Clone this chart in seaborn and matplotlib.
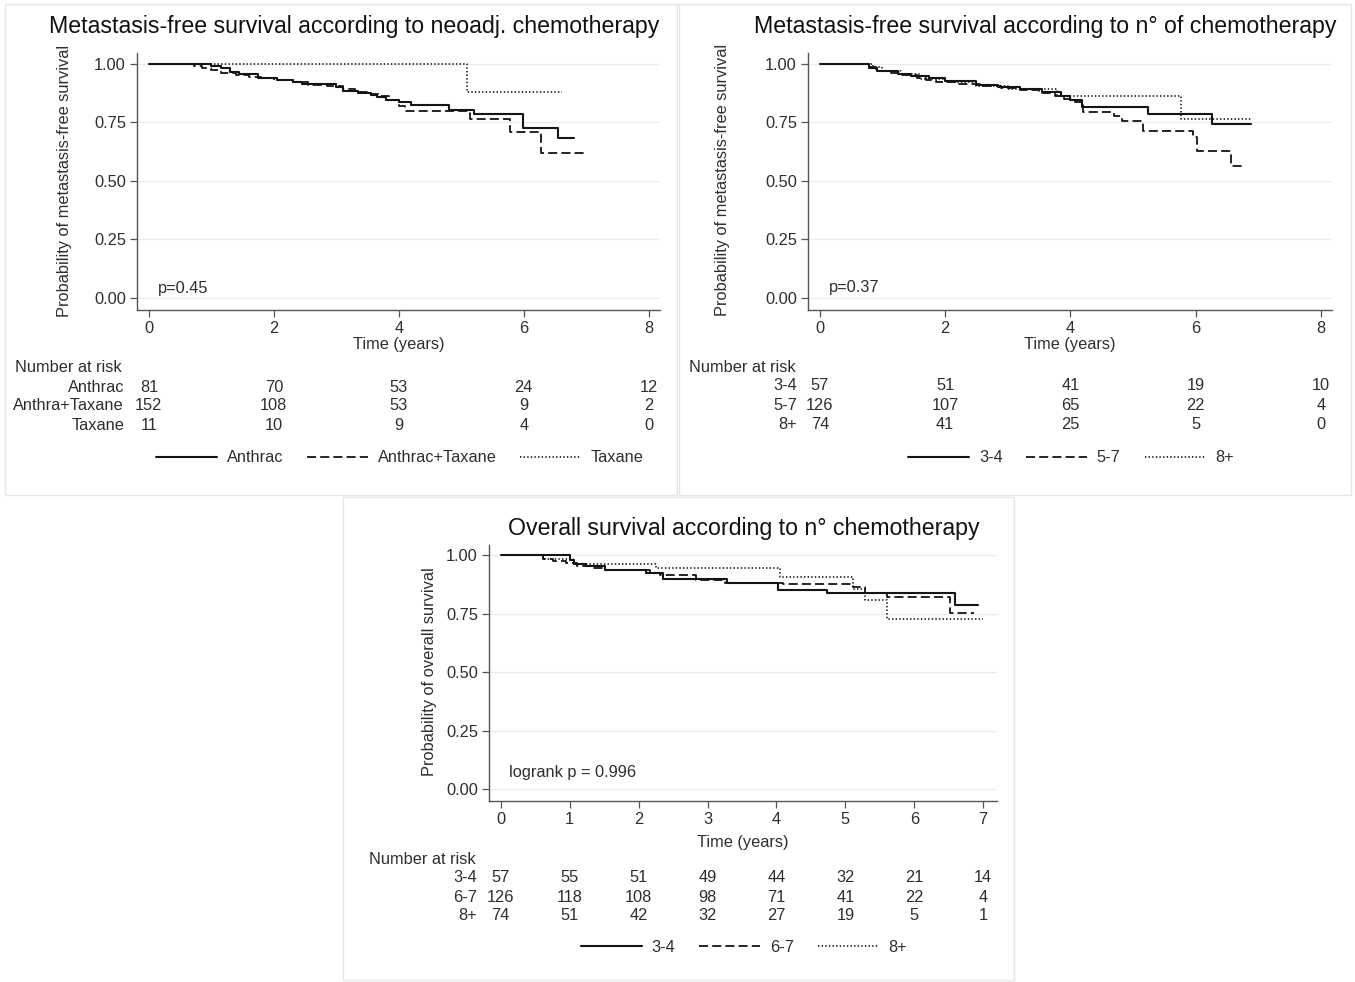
import numpy as np
import pandas as pd
import matplotlib
matplotlib.use("Agg")
import matplotlib.pyplot as plt
import seaborn as sns
import matplotlib.transforms as mtransforms
from matplotlib.lines import Line2D
from matplotlib.patches import Rectangle

# ---------------- data ----------------
# Panel 1: metastasis-free survival by neoadjuvant chemotherapy
p1_titles = "Metastasis-free survival according to neoadj. chemotherapy"
p1_groups = ["Anthrac", "Anthrac+Taxane", "Taxane"]
p1_risk_labels = ["Anthrac", "Anthra+Taxane", "Taxane"]
p1_anthrac_t = [0, 1.0, 1.15, 1.3, 1.45, 1.75, 2.05, 2.3, 2.45, 3.0, 3.1, 3.35, 3.55, 3.65, 3.8, 4.0, 4.2, 4.8, 5.2, 5.98, 6.54, 6.8]
p1_anthrac_s = [1.0, 0.99, 0.98, 0.965, 0.955, 0.94, 0.93, 0.922, 0.915, 0.9, 0.885, 0.875, 0.867, 0.857, 0.847, 0.838, 0.822, 0.802, 0.787, 0.727, 0.682, 0.682]
p1_antax_t = [0, 0.72, 0.85, 1.0, 1.15, 1.4, 1.6, 1.8, 2.0, 2.3, 2.55, 2.85, 3.1, 3.3, 3.5, 3.7, 3.85, 4.0, 4.1, 5.14, 5.78, 6.27, 6.97]
p1_antax_s = [1.0, 0.99, 0.98, 0.972, 0.962, 0.952, 0.945, 0.937, 0.93, 0.92, 0.91, 0.905, 0.89, 0.88, 0.87, 0.86, 0.845, 0.82, 0.8, 0.763, 0.71, 0.62, 0.62]
p1_taxane_t = [0, 5.09, 6.61]
p1_taxane_s = [1.0, 0.879, 0.879]
p1_risk_times = [0, 2, 4, 6, 8]
p1_risk = [[81, 70, 53, 24, 12],
           [152, 108, 53, 9, 2],
           [11, 10, 9, 4, 0]]
p1_pval = "p=0.45"

# Panel 2: metastasis-free survival by number of chemotherapy cycles
p2_title = "Metastasis-free survival according to n\u00b0 of chemotherapy"
p2_groups = ["3-4", "5-7", "8+"]
p2_a_t = [0, 0.78, 0.92, 1.25, 1.45, 1.75, 2.0, 2.5, 2.85, 3.2, 3.55, 3.85, 4.0, 4.19, 5.24, 6.26, 6.88]
p2_a_s = [1.0, 0.983, 0.97, 0.958, 0.948, 0.94, 0.928, 0.91, 0.9, 0.893, 0.88, 0.862, 0.845, 0.814, 0.786, 0.742, 0.742]
p2_b_t = [0, 0.78, 0.9, 1.13, 1.3, 1.55, 1.7, 1.85, 2.2, 2.6, 2.9, 3.2, 3.5, 3.75, 3.9, 4.08, 4.2, 4.69, 4.83, 5.16, 5.96, 6.02, 6.57, 6.74]
p2_b_s = [1.0, 0.985, 0.97, 0.96, 0.95, 0.94, 0.93, 0.92, 0.912, 0.905, 0.895, 0.888, 0.875, 0.862, 0.85, 0.835, 0.793, 0.778, 0.757, 0.714, 0.686, 0.629, 0.564, 0.564]
p2_c_t = [0, 0.85, 1.0, 1.3, 1.6, 2.0, 2.5, 3.0, 3.79, 5.77, 6.9]
p2_c_s = [1.0, 0.985, 0.97, 0.955, 0.935, 0.92, 0.905, 0.893, 0.864, 0.764, 0.764]
p2_risk_times = [0, 2, 4, 6, 8]
p2_risk = [[57, 51, 41, 19, 10],
           [126, 107, 65, 22, 4],
           [74, 41, 25, 5, 0]]
p2_pval = "p=0.37"

# Panel 3: overall survival by number of chemotherapy cycles
p3_title = "Overall survival according to n\u00b0 chemotherapy"
p3_groups = ["3-4", "6-7", "8+"]
p3_a_t = [0, 1.0, 1.07, 1.24, 1.51, 2.11, 2.36, 3.28, 4.03, 4.73, 6.59, 6.93]
p3_a_s = [1.0, 0.979, 0.964, 0.953, 0.936, 0.924, 0.896, 0.879, 0.853, 0.836, 0.786, 0.786]
p3_b_t = [0, 0.61, 0.76, 0.95, 1.1, 1.34, 1.51, 2.16, 2.31, 2.84, 3.25, 4.1, 5.11, 5.28, 5.6, 6.52, 6.86]
p3_b_s = [1.0, 0.985, 0.975, 0.965, 0.955, 0.945, 0.935, 0.925, 0.915, 0.893, 0.879, 0.875, 0.865, 0.836, 0.819, 0.753, 0.753]
p3_c_t = [0, 0.61, 1.05, 2.26, 4.05, 5.11, 5.28, 5.6, 7.0]
p3_c_s = [1.0, 0.985, 0.964, 0.943, 0.907, 0.857, 0.808, 0.725, 0.725]
p3_risk_times = [0, 1, 2, 3, 4, 5, 6, 7]
p3_risk = [[57, 55, 51, 49, 44, 32, 21, 14],
           [126, 118, 108, 98, 71, 41, 22, 4],
           [74, 51, 42, 32, 27, 19, 5, 1]]
p3_pval = "logrank p = 0.996"

y_ticks = [0.0, 0.25, 0.5, 0.75, 1.0]

# ---------------- style ----------------
sns.set_theme(style="white")
plt.rcParams["font.family"] = ["Liberation Sans", "DejaVu Sans"]
plt.rcParams["lines.scale_dashes"] = False

W, H = 1355, 982
fig = plt.figure(figsize=(W / 100, H / 100), dpi=100)
fig.patch.set_facecolor("white")

LINE_COLOR = "#141414"
TEXT_COLOR = "#2e2e2e"
STYLES = [dict(linestyle="-", linewidth=1.5),
          dict(linestyle=(0, (6.5, 3.0)), linewidth=1.3),
          dict(linestyle=(0, (1.0, 1.6)), linewidth=1.2)]
FS = 11.8
TFS = 16.7


def fx(x):
    return x / W


def fy(y):
    return 1 - y / H


def panel_box(x0, y0, x1, y1):
    fig.add_artist(Rectangle((fx(x0), fy(y1)), (x1 - x0) / W, (y1 - y0) / H,
                             transform=fig.transFigure, facecolor="none",
                             edgecolor="#e6e6e6", linewidth=1.0, zorder=0))


def make_axes(left, top, right, bottom, xlim, ylim, xticks, xlabelpad):
    ax = fig.add_axes([fx(left), fy(bottom), (right - left) / W, (bottom - top) / H])
    ax.set_xlim(*xlim)
    ax.set_ylim(*ylim)
    ax.set_xticks(xticks)
    ax.set_yticks(y_ticks)
    ax.set_yticklabels([f"{v:.2f}" for v in y_ticks])
    for side in ["top", "right"]:
        ax.spines[side].set_visible(False)
    for side in ["left", "bottom"]:
        ax.spines[side].set_color("#555555")
        ax.spines[side].set_linewidth(1.0)
    ax.tick_params(axis="both", which="both", bottom=True, left=True, direction="out",
                   length=5, width=0.9, color="#555555", labelsize=FS, labelcolor=TEXT_COLOR)
    ax.tick_params(axis="x", pad=3)
    ax.tick_params(axis="y", pad=3)
    ax.grid(axis="y", color="#ececec", linewidth=1.0)
    ax.grid(axis="x", visible=False)
    ax.set_facecolor("white")
    ax.set_xlabel("Time (years)", fontsize=FS, color=TEXT_COLOR, labelpad=xlabelpad)
    ax.set_ylabel("")
    return ax


def km(ax, t, s, k):
    df = pd.DataFrame({"t": t, "s": s})
    sns.lineplot(data=df, x="t", y="s", ax=ax, drawstyle="steps-post", estimator=None,
                 sort=False, color=LINE_COLOR, **STYLES[k])


def risk_table(ax, times, rows, labels, label_right_x, head_x, head_y, row_ys):
    fig.text(fx(head_x), fy(head_y), "Number at risk", fontsize=FS, color=TEXT_COLOR,
             ha="left", va="center")
    trans = mtransforms.blended_transform_factory(ax.transData, fig.transFigure)
    for lab, row, yy in zip(labels, rows, row_ys):
        fig.text(fx(label_right_x), fy(yy), lab, fontsize=FS, color=TEXT_COLOR,
                 ha="right", va="center")
        for tt, n in zip(times, row):
            ax.text(tt, fy(yy), str(n), transform=trans, fontsize=FS, color=TEXT_COLOR,
                    ha="center", va="center", clip_on=False)


def legend(ax, groups, cx, cy):
    handles = [Line2D([0], [0], color=LINE_COLOR, **STYLES[k]) for k in range(3)]
    fig.legend(handles, groups, loc="center", bbox_to_anchor=(fx(cx), fy(cy)),
               ncol=3, frameon=False, fontsize=FS, handlelength=3.7,
               handletextpad=0.6, columnspacing=1.45, labelcolor=TEXT_COLOR,
               borderaxespad=0, borderpad=0)


# panel frames
panel_box(5, 4, 677, 495)
panel_box(679, 4, 1351, 495)
panel_box(343, 497, 1014, 980)

# ---------------- panel 1 ----------------
ax1 = make_axes(137, 53, 660, 310, (-0.19, 8.18), (-0.053, 1.046), [0, 2, 4, 6, 8], 1)
km(ax1, p1_anthrac_t, p1_anthrac_s, 0)
km(ax1, p1_antax_t, p1_antax_s, 1)
km(ax1, p1_taxane_t, p1_taxane_s, 2)
ax1.text(0.15, 0.04, p1_pval, fontsize=FS, color=TEXT_COLOR, ha="left", va="center")
fig.text(fx(354), fy(26), p1_titles, fontsize=TFS, color="#111111", ha="center", va="center")
fig.text(fx(65), fy(181), "Probability of metastasis-free survival", fontsize=FS,
         color=TEXT_COLOR, rotation=90, ha="center", va="center")
risk_table(ax1, p1_risk_times, p1_risk, p1_risk_labels, 124, 15, 368, [387, 406, 426])
legend(ax1, p1_groups, 400, 458)

# ---------------- panel 2 ----------------
ax2 = make_axes(808, 53, 1332, 310, (-0.19, 8.18), (-0.053, 1.046), [0, 2, 4, 6, 8], 1)
km(ax2, p2_a_t, p2_a_s, 0)
km(ax2, p2_b_t, p2_b_s, 1)
km(ax2, p2_c_t, p2_c_s, 2)
ax2.text(0.15, 0.045, p2_pval, fontsize=FS, color=TEXT_COLOR, ha="left", va="center")
fig.text(fx(1045), fy(27), p2_title, fontsize=TFS, color="#111111", ha="center", va="center")
fig.text(fx(722), fy(180), "Probability of metastasis-free survival", fontsize=FS,
         color=TEXT_COLOR, rotation=90, ha="center", va="center")
risk_table(ax2, p2_risk_times, p2_risk, p2_groups, 797, 689, 368, [386, 406, 425])
legend(ax2, p2_groups, 1071, 458)

# ---------------- panel 3 ----------------
ax3 = make_axes(489, 545, 997, 801, (-0.17, 7.2), (-0.05, 1.043), [0, 1, 2, 3, 4, 5, 6, 7], 6)
km(ax3, p3_a_t, p3_a_s, 0)
km(ax3, p3_b_t, p3_b_s, 1)
km(ax3, p3_c_t, p3_c_s, 2)
ax3.text(0.12, 0.07, p3_pval, fontsize=FS, color=TEXT_COLOR, ha="left", va="center")
fig.text(fx(744), fy(528), p3_title, fontsize=TFS, color="#111111", ha="center", va="center")
fig.text(fx(430), fy(672), "Probability of overall survival", fontsize=FS,
         color=TEXT_COLOR, rotation=90, ha="center", va="center")
risk_table(ax3, p3_risk_times, p3_risk, p3_groups, 477, 369, 859, [878, 897, 916])
legend(ax3, p3_groups, 744, 947)

for ax in (ax1, ax2, ax3):
    ax.set_ylabel("")

fig.savefig("out.png", dpi=100, facecolor="white")
